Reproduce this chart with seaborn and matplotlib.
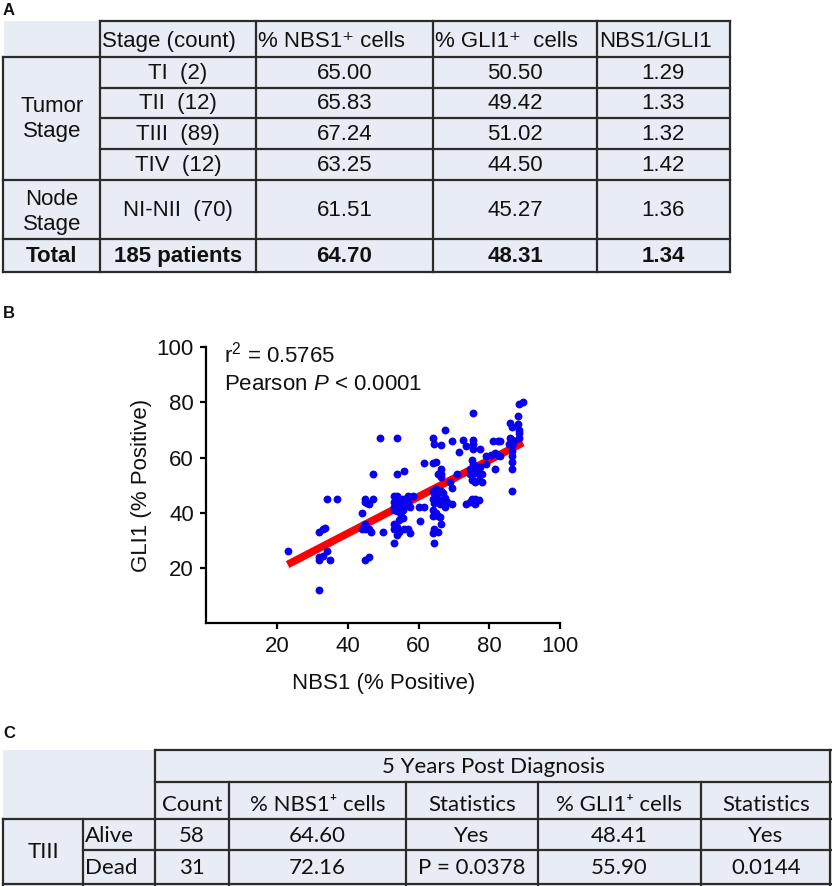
import numpy as np
import pandas as pd
import matplotlib
matplotlib.use("Agg")
import matplotlib.pyplot as plt
import seaborn as sns
from matplotlib.patches import Rectangle

# ---------------- Table A data ----------------
a_col_headers = ["Stage (count)", "% NBS1\u207a cells", "% GLI1\u207a  cells", "NBS1/GLI1"]
a_groups = ["Tumor\nStage", "Node\nStage", "Total"]
a_stages = ["TI  (2)", "TII  (12)", "TIII  (89)", "TIV  (12)", "NI-NII  (70)", "185 patients"]
a_nbs1 = ["65.00", "65.83", "67.24", "63.25", "61.51", "64.70"]
a_gli1 = ["50.50", "49.42", "51.02", "44.50", "45.27", "48.31"]
a_ratio = ["1.29", "1.33", "1.32", "1.42", "1.36", "1.34"]

# ---------------- Scatter data ----------------
nbs1_pct = [23, 32, 33, 33.5, 32, 32, 33, 34, 35, 32, 34, 37, 44, 45, 45, 45.5, 46, 47,
            45, 45, 44, 46, 46.5, 45, 46, 47, 49, 50, 54, 54, 56,
            53, 54, 55, 56, 57, 53, 54, 55, 56, 57, 53, 54.5, 55.5, 56, 57.5, 53, 54, 55, 54, 56.5,
            58.5, 55, 55.5, 54.5, 53, 54, 53, 54.5, 54, 56, 57, 57.5, 53, 60, 60.5, 61.5, 61.5,
            64, 64.5, 66.5, 64, 65, 66.5, 66.5, 65.5, 66.5,
            64, 65, 64.5, 65.5, 66.5, 67, 67.5, 64, 65.5, 64.5, 66, 67, 68, 67.5,
            64, 65, 65.5, 64, 66, 66.5, 64.5, 65.5, 64, 64.5,
            67.5, 69.5, 69, 69.5, 69.5, 71, 71.5, 72.5, 73.5, 73.5, 75.5, 75.5, 75.5, 75.5,
            75, 75.5, 76, 74.5, 75.5, 76.5, 74.5, 75.5, 77, 78, 75, 77, 76, 78, 76.5, 77.5,
            75, 76, 74.5, 76, 77, 76, 77.5, 79, 80.5, 81.5, 82.5, 83, 79, 81, 82.5, 83, 81.5,
            86, 86.5, 87, 85.5, 86.5, 86, 86.5, 86.5, 86.5, 86.5, 86.5, 86.5,
            88, 88, 88.5, 88.5, 88.5, 89.5, 88.5]
gli1_pct = [26, 33, 34, 34.3, 24, 23, 24.5, 26, 23, 12, 45, 45, 40, 45, 44, 43.5, 43, 45,
            36, 34, 34, 34, 33, 23, 24, 54, 67, 33, 67, 54, 55,
            46, 46, 45, 45, 46, 44, 43.5, 44, 43.5, 44, 42, 42, 41, 42, 42, 41, 40.5, 43, 45, 44.5,
            46, 39, 38, 37.5, 36, 35, 34, 33, 32, 34, 34, 32.5, 29, 42, 37, 58, 42,
            67, 65, 64.5, 58, 58.5, 56, 54, 54, 53,
            48, 48.5, 47, 47.5, 48, 47, 45.5, 45, 45, 43.5, 43, 43.5, 44, 42,
            41, 40, 39, 39, 38.5, 36, 34, 33, 32.5, 29,
            70, 66, 51, 49, 43, 54, 62, 66.5, 64, 43, 76, 66.5, 65, 63,
            59, 57.5, 57, 56, 55.5, 55.5, 54, 54, 54, 54, 52, 52, 51, 51, 56, 56.5,
            45, 45, 44, 44.5, 44.5, 43, 63, 60.5, 61, 61.5, 61, 60.5, 57.5, 66, 66, 66, 56,
            67, 66.5, 66, 65, 64.5, 72.5, 71, 62.5, 60.5, 58.5, 56, 48,
            75, 72, 70, 69, 79.5, 80, 67]

# ---------------- Table C data ----------------
c_title = "5 Years Post Diagnosis"
c_col_headers = ["Count", "% NBS1\u207a cells", "Statistics", "% GLI1\u207a cells", "Statistics"]
c_stage = "TIII"
c_status = ["Alive", "Dead"]
c_count = ["58", "31"]
c_nbs1 = ["64.60", "72.16"]
c_nbs1_stat = ["Yes", "P = 0.0378"]
c_gli1 = ["48.41", "55.90"]
c_gli1_stat = ["Yes", "0.0144"]

panel_labels = ["A", "B", "C"]

# ---------------- style ----------------
sns.set_theme(style="ticks")
plt.rcParams["font.family"] = ["Liberation Sans", "DejaVu Sans"]
plt.rcParams["mathtext.fontset"] = "custom"
plt.rcParams["mathtext.rm"] = "Liberation Sans"
plt.rcParams["mathtext.it"] = "Liberation Sans:italic"

W, H = 832, 886
fig = plt.figure(figsize=(W / 100, H / 100), dpi=100)
fig.patch.set_facecolor("white")
bg = fig.add_axes([0, 0, 1, 1])
bg.set_xlim(0, W)
bg.set_ylim(H, 0)
bg.axis("off")

FILL = "#e8ecf4"
LC = "#2b2b2b"


def hline(y, x0, x1, lw=1.6):
    bg.plot([x0, x1], [y, y], color=LC, lw=lw, solid_capstyle="projecting")


def vline(x, y0, y1, lw=1.6):
    bg.plot([x, x], [y0, y1], color=LC, lw=lw, solid_capstyle="projecting")


# ---------------- Table A ----------------
FA = 16
bg.add_patch(Rectangle((4, 21), 726, 251, fc=FILL, ec="none"))
hline(21, 100, 730)
hline(57, 3, 730)
for yy in (88, 118, 149):
    hline(yy, 100, 730)
for yy in (180, 239, 272):
    hline(yy, 3, 730)
vline(3, 57, 272)
for xx in (100, 256, 433, 597, 730):
    vline(xx, 21, 272)

for xx, t in zip([102, 258, 435, 599], a_col_headers):
    bg.text(xx, 41, t, ha="left", va="center", fontsize=FA, color="#111")

row_y = [73, 103, 134, 165, 210, 256]
for i, yy in enumerate(row_y):
    w = "bold" if i == len(row_y) - 1 else "normal"
    bg.text(178, yy, a_stages[i], ha="center", va="center", fontsize=FA, weight=w, color="#111")
    bg.text(344.5, yy, a_nbs1[i], ha="center", va="center", fontsize=FA, weight=w, color="#111")
    bg.text(515, yy, a_gli1[i], ha="center", va="center", fontsize=FA, weight=w, color="#111")
    bg.text(663, yy, a_ratio[i], ha="center", va="center", fontsize=FA, weight=w, color="#111")
bg.text(52, 119, a_groups[0], ha="center", va="center", fontsize=FA, linespacing=1.25, color="#111")
bg.text(52, 212, a_groups[1], ha="center", va="center", fontsize=FA, linespacing=1.25, color="#111")
bg.text(52, 256, a_groups[2], ha="center", va="center", fontsize=FA, weight="bold", color="#111")

# ---------------- Panel labels ----------------
for (yy, lab) in zip([10, 313, 734], panel_labels):
    bg.text(3, yy, lab, ha="left", va="center", fontsize=12, weight="bold", color="#111")

# ---------------- Table C ----------------
FC = 16
CF = ["Lato", "DejaVu Sans"]
bg.add_patch(Rectangle((3, 750), 829, 136, fc=FILL, ec="none"))
hline(750, 155, 831)
hline(782, 155, 831)
hline(819, 3, 831)
hline(850, 83, 831)
hline(884, 3, 831)
vline(155, 750, 886)
for xx in (229, 406, 538, 701):
    vline(xx, 782, 886)
vline(830, 750, 886)
vline(3, 819, 886)
vline(83, 819, 886)

bg.text(493, 767, c_title, ha="center", va="center", fontsize=FC, family=CF, color="#111")
c_x = [192, 317.5, 472, 619.5, 766]
for xx, t in zip(c_x, c_col_headers):
    bg.text(xx, 805, t, ha="center", va="center", fontsize=FC, family=CF, color="#111")
bg.text(43, 852, c_stage, ha="center", va="center", fontsize=FC, family=CF, color="#111")
for i, yy in enumerate([836, 868]):
    bg.text(85, yy, c_status[i], ha="left", va="center", fontsize=FC, family=CF, color="#111")
    vals = [c_count[i], c_nbs1[i], c_nbs1_stat[i], c_gli1[i], c_gli1_stat[i]]
    for xx, v in zip(c_x, vals):
        bg.text(xx, yy, v, ha="center", va="center", fontsize=FC, family=CF, color="#111")

# ---------------- Scatter (B) ----------------
x0, x1, ytop, ybot = 206.25, 560.0, 347.0, 623.25
ax = fig.add_axes([x0 / W, (H - ybot) / H, (x1 - x0) / W, (ybot - ytop) / H])
ax.set_facecolor("none")
df = pd.DataFrame({"NBS1": nbs1_pct, "GLI1": gli1_pct})
sns.scatterplot(data=df, x="NBS1", y="GLI1", color="#0a00f0", s=32, linewidth=0,
                ax=ax, zorder=3, legend=False)
sns.regplot(data=df, x="NBS1", y="GLI1", scatter=False, ci=None, ax=ax,
            line_kws={"color": "#ff0000", "lw": 5.5, "zorder": 2.5, "solid_capstyle": "butt"})
ax.set_xlim(0, 100)
ax.set_ylim(0, 100)
ax.set_xticks([20, 40, 60, 80, 100])
ax.set_yticks([20, 40, 60, 80, 100])
sns.despine(ax=ax)
for sp in ("left", "bottom"):
    ax.spines[sp].set_linewidth(1.6)
    ax.spines[sp].set_color("black")
ax.tick_params(direction="out", length=4, width=1.6, labelsize=16, pad=5, colors="black")
for lab in ax.get_xticklabels() + ax.get_yticklabels():
    lab.set_color("#111")
ax.set_xlabel("NBS1 (% Positive)", fontsize=16, labelpad=12, color="#111")
ax.set_ylabel("GLI1 (% Positive)", fontsize=16, labelpad=3, color="#111")
ax.text(0.05, 0.972, r"r$^2$ = 0.5765", transform=ax.transAxes, ha="left", va="center",
        fontsize=16, color="#111")
ax.text(0.05, 0.863, r"Pearson $\mathit{P}$ < 0.0001", transform=ax.transAxes, ha="left",
        va="center", fontsize=16, color="#111")

fig.savefig("out.png", dpi=100, facecolor="white")
